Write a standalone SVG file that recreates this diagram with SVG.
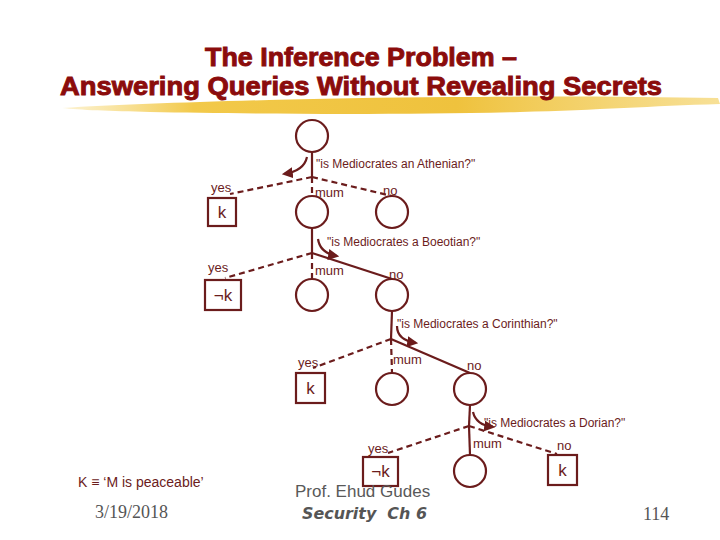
<svg xmlns="http://www.w3.org/2000/svg" width="720" height="540" viewBox="0 0 720 540">
<style>
.ln{stroke:#6b1c1c;stroke-width:2.2;fill:none}
.ds{stroke-dasharray:6,4}
.nd{stroke:#6b1c1c;stroke-width:2.2;fill:#fff}
.t{font-family:"Liberation Sans",Arial,sans-serif;fill:#6b1c1c}
.q{font-size:12px}
.lb{font-size:13px}
.k{font-size:17px}
.title{font-family:"Liberation Sans",Arial,sans-serif;font-weight:bold;fill:#8b0c0c;stroke:#8b0c0c;stroke-width:0.9;font-size:25px}
</style>
<defs>
<marker id="ah" viewBox="0 0 10 10" refX="8" refY="5" markerWidth="5" markerHeight="5" orient="auto">
<path d="M0,0 L10,5 L0,10 z" fill="#6b1c1c"/>
</marker>
<linearGradient id="brush" x1="0" y1="0" x2="1" y2="0">
<stop offset="0" stop-color="#f6d56a" stop-opacity="0.3"/>
<stop offset="0.2" stop-color="#f2c94a"/>
<stop offset="0.6" stop-color="#efc23d"/>
<stop offset="1" stop-color="#f4d36a" stop-opacity="0.7"/>
</linearGradient>
</defs>
<rect width="720" height="540" fill="#fff"/>
<path d="M62,108 C150,103 300,98 450,97 C560,96 650,97 718,98 L720,104 C650,106 600,110 520,112 C400,115 250,114 150,112 C110,111 80,110 62,108 z" fill="url(#brush)"/>
<text class="title" x="361" y="66" text-anchor="middle" textLength="312" lengthAdjust="spacingAndGlyphs">The Inference Problem –</text>
<text class="title" x="361" y="95" text-anchor="middle" textLength="602" lengthAdjust="spacingAndGlyphs">Answering Queries Without Revealing Secrets</text>

<g id="connectors">
<line class="ln" x1="312" y1="152" x2="312" y2="177"/>
<line class="ln ds" x1="312" y1="177" x2="230" y2="194"/>
<line class="ln ds" x1="312" y1="177" x2="312" y2="196"/>
<line class="ln ds" x1="312" y1="177" x2="392" y2="196"/>
<path class="ln" d="M307,157 Q304,171 284,174" marker-end="url(#ah)"/>

<line class="ln" x1="312" y1="228" x2="312" y2="253"/>
<line class="ln ds" x1="312" y1="253" x2="225" y2="278"/>
<line class="ln ds" x1="312" y1="253" x2="312" y2="279"/>
<line class="ln" x1="312" y1="253" x2="392" y2="279"/>
<path class="ln" d="M318,239 Q320,253 337,256" marker-end="url(#ah)"/>

<line class="ln" x1="392" y1="311" x2="391" y2="339"/>
<line class="ln ds" x1="391" y1="339" x2="313" y2="368"/>
<line class="ln ds" x1="391" y1="339" x2="392" y2="373"/>
<line class="ln" x1="391" y1="339" x2="470" y2="373"/>
<path class="ln" d="M397,326 Q397,340 416,343" marker-end="url(#ah)"/>

<line class="ln" x1="470" y1="405" x2="469" y2="426"/>
<line class="ln ds" x1="469" y1="426" x2="388" y2="453"/>
<line class="ln" x1="469" y1="426" x2="470" y2="455"/>
<line class="ln ds" x1="469" y1="426" x2="557" y2="454"/>
<path class="ln" d="M473,412 Q476,425 493,427" marker-end="url(#ah)"/>
</g>

<g id="n-root"><circle class="nd" cx="312" cy="136" r="16"/></g>
<g id="q1"><text class="t q" x="316" y="168">"is Mediocrates an Athenian?"</text></g>
<g id="l1-yes"><text class="t lb" x="211" y="192">yes</text><rect class="nd" x="208" y="198" width="28" height="28"/><text class="t k" x="222" y="218" text-anchor="middle">k</text></g>
<g id="l1-mum"><text class="t lb" x="315" y="197">mum</text><circle class="nd" cx="312" cy="212" r="16"/></g>
<g id="l1-no"><text class="t lb" x="383" y="195">no</text><circle class="nd" cx="392" cy="212" r="16"/></g>

<g id="q2"><text class="t q" x="327" y="246">"is Mediocrates a Boeotian?"</text></g>
<g id="l2-yes"><text class="t lb" x="208" y="272">yes</text><rect class="nd" x="205" y="280" width="36" height="30"/><text class="t k" x="223" y="301" text-anchor="middle">¬k</text></g>
<g id="l2-mum"><text class="t lb" x="315" y="275">mum</text><circle class="nd" cx="312" cy="295" r="16"/></g>
<g id="l2-no"><text class="t lb" x="389" y="279">no</text><circle class="nd" cx="392" cy="295" r="16"/></g>

<g id="q3"><text class="t q" x="397" y="328">"is Mediocrates a Corinthian?"</text></g>
<g id="l3-yes"><text class="t lb" x="298" y="367">yes</text><rect class="nd" x="296" y="373" width="29" height="30"/><text class="t k" x="310.5" y="394" text-anchor="middle">k</text></g>
<g id="l3-mum"><text class="t lb" x="393" y="364">mum</text><circle class="nd" cx="392" cy="389" r="16"/></g>
<g id="l3-no"><text class="t lb" x="467" y="370">no</text><circle class="nd" cx="470" cy="389" r="16"/></g>

<g id="q4"><text class="t q" x="484" y="427">"is Mediocrates a Dorian?"</text></g>
<g id="l4-yes"><text class="t lb" x="368" y="453">yes</text><rect class="nd" x="363" y="457" width="35" height="29"/><text class="t k" x="380.5" y="477" text-anchor="middle">¬k</text></g>
<g id="l4-mum"><text class="t lb" x="473" y="448">mum</text><circle class="nd" cx="470" cy="471" r="16"/></g>
<g id="l4-no"><text class="t lb" x="557" y="450">no</text><rect class="nd" x="548" y="455" width="29" height="30"/><text class="t k" x="562.5" y="476" text-anchor="middle">k</text></g>

<text class="t" x="78" y="487" font-size="14">K ≡ ‘M is peaceable’</text>
<text x="95" y="518" font-family="Liberation Serif,serif" font-size="18" fill="#555">3/19/2018</text>
<text x="295" y="497" font-family="Liberation Sans,Arial,sans-serif" font-size="17" fill="#595959">Prof. Ehud Gudes</text>
<text x="302" y="519" font-family="DejaVu Sans,sans-serif" font-weight="bold" font-style="italic" font-size="16" fill="#555" textLength="125" lengthAdjust="spacingAndGlyphs" xml:space="preserve">Security  Ch 6</text>
<text x="643" y="520" font-family="Liberation Serif,serif" font-size="18" fill="#555">114</text>
</svg>
